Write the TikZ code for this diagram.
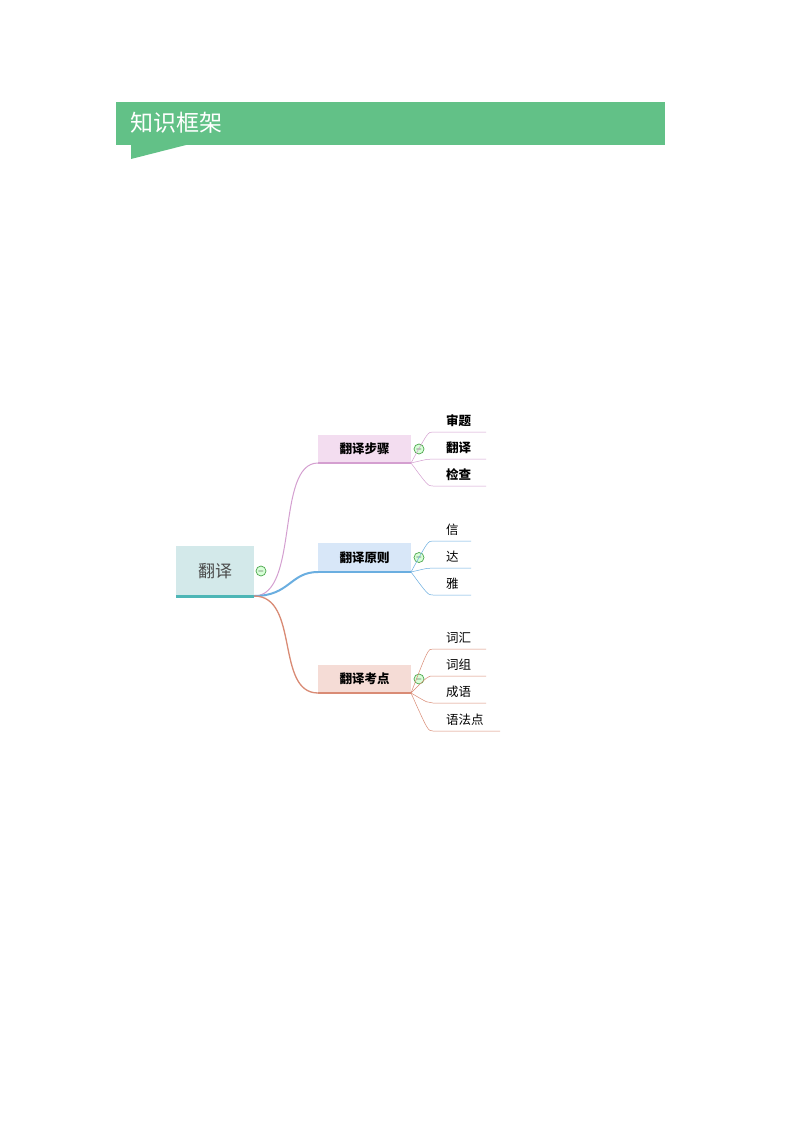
\documentclass[tikz,border=0pt]{standalone}
\usepackage{fontspec}
\setmainfont{Noto Sans CJK SC}
\begin{document}
\begin{tikzpicture}[x=1pt,y=-1pt,
  minus/.style={circle,draw=green!50!black!70,fill=green!15,line width=0.7pt,inner sep=0pt,minimum size=10pt,font=\fontsize{8}{8}\selectfont},
  br/.style={anchor=center,font=\fontsize{12.5}{14}\selectfont\bfseries},
  leaf/.style={anchor=west,inner sep=0pt}]
\definecolor{ban}{HTML}{62C187}
\definecolor{c1}{HTML}{D49FD0}\definecolor{f1}{HTML}{F3DDF0}
\definecolor{c2}{HTML}{6AAEE0}\definecolor{f2}{HTML}{D8E7F8}
\definecolor{c3}{HTML}{D98B75}\definecolor{f3}{HTML}{F5DCD6}
\definecolor{c0}{HTML}{4DB6B6}\definecolor{f0}{HTML}{D3E9EA}
\useasboundingbox (0,0) rectangle (794,1123);
\fill[white] (0,0) rectangle (794,1123);
% banner
\fill[ban] (116,102) rectangle (665,145);
\fill[ban] (131,144) -- (131,159) -- (190,144) -- cycle;
\node[anchor=west,text=white,font=\fontsize{23}{25}\selectfont] (title) at (127,123) {知识框架};
% root
\fill[f0] (176,546) rectangle (254,596);
\draw[c0,line width=3pt] (176,596) -- (254,596);
\node[text=black!70,font=\fontsize{17}{19}\selectfont] (root) at (215,571) {翻译};
\node[minus] (m0) at (261,571) {$-$};
\coordinate (r) at (254,596);
% branches
\foreach \i/\yt/\yb/\t in {1/435/463/翻译步骤,2/543/572/翻译原则,3/665/693/翻译考点}{
  \fill[f\i] (318,\yt) rectangle (411,\yb);
  \draw[c\i,line width=2.5pt] (318,\yb) -- (411,\yb);
  \node[br] (b\i) at (364.5,{(\yt+\yb)/2}) {\t};
  \node[minus] (m\i) at (419,{(\yt+\yb)/2}) {$-$};
  \coordinate (s\i) at (318,\yb);
  \coordinate (e\i) at (411,\yb);
}
\draw[c1,line width=1pt] (r) .. controls (300,596) and (275,463) .. (s1);
\draw[c2,line width=2pt] (r) .. controls (290,596) and (290,572) .. (s2);
\draw[c3,line width=1.3pt] (r) .. controls (300,596) and (275,693) .. (s3);
% leaves
\foreach \b/\y/\x/\t/\f in {1/432/486/审题/\bfseries,1/459/486/翻译/\bfseries,1/486/486/检查/\bfseries,
  2/541/471/信/,2/568/471/达/,2/595/471/雅/,
  3/649/486/词汇/,3/676/486/词组/,3/703/486/成语/,3/731/500/语法点/}{
  \coordinate (u) at (433,\y);
  \draw[c\b,line width=0.5pt] (e\b) .. controls (428,\y) .. (u) -- (\x,\y);
  \node[leaf,font=\fontsize{12.5}{14}\selectfont\f] at (446,\y-11.5) {\t};
}
\end{tikzpicture}
\end{document}
